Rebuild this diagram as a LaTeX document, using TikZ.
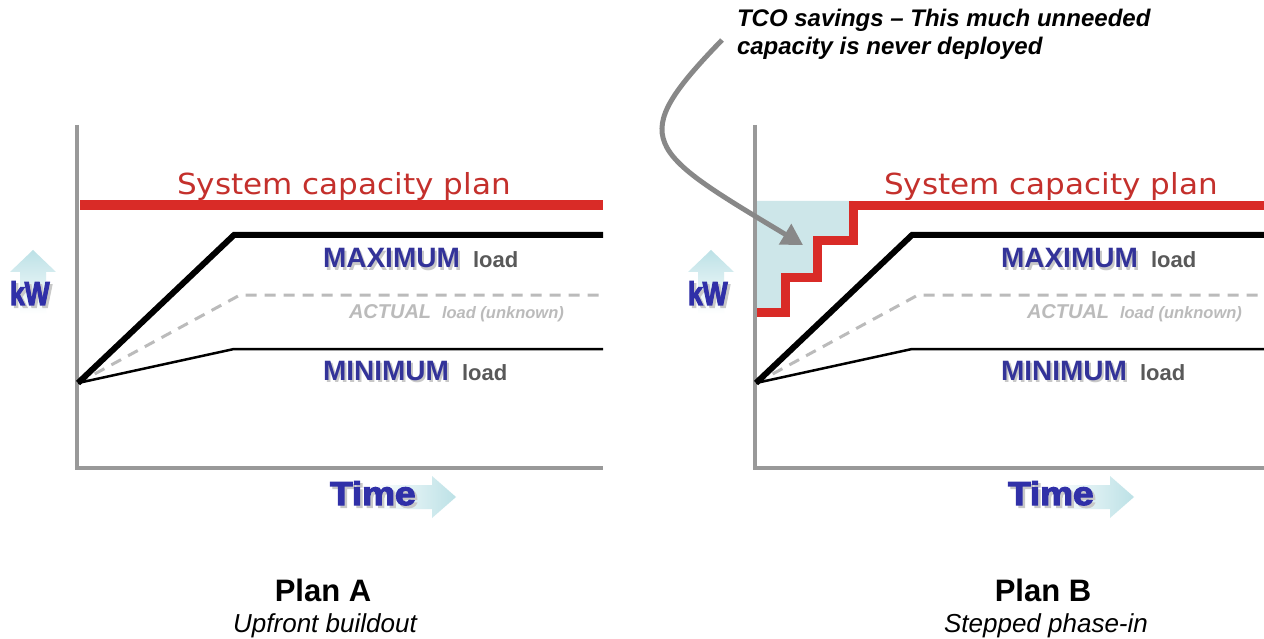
\documentclass[tikz,border=0pt]{standalone}
\usepackage{fontspec}
\setmainfont{Liberation Sans}
\newfontfamily\verdfont{DejaVu Sans}
\newfontfamily\heavyfont[BoldFeatures={FakeBold=3.5}]{Liberation Sans}
\usetikzlibrary{arrows.meta}
\definecolor{capred}{HTML}{D92B27}
\definecolor{capredtext}{HTML}{C4302C}
\definecolor{axisgray}{HTML}{999999}
\definecolor{dashgray}{HTML}{BBBBBB}
\definecolor{loadgray}{HTML}{595959}
\definecolor{labelblue}{HTML}{333399}
\definecolor{heavyblue}{HTML}{3030A8}
\definecolor{arrowcyan}{HTML}{BCE1E6}
\definecolor{savefill}{HTML}{CDE6E9}
\definecolor{curvegray}{HTML}{888888}
\definecolor{shadowgray}{HTML}{C8C8C8}
\newcommand\chartpanel[4]{%
\begin{scope}[xshift=#2]
\coordinate (#1top) at (77,125);
\coordinate (#1corner) at (77,468);
\coordinate (#1xend) at (#3,468);
\coordinate (#1o) at (78,383);
\coordinate (#1maxk) at (234,235);
\coordinate (#1maxe) at (#3,235);
\coordinate (#1actk) at (240,295);
\coordinate (#1acte) at (#3,295);
\coordinate (#1mink) at (234,349);
\coordinate (#1mine) at (#3,349);
\draw[axisline] (#1top) -- (#1corner) -- (#1xend);
\draw[actline] (#1o) -- (#1actk) -- (#1acte);
\draw[minline] (#1o) -- (#1mink) -- (#1mine);
\draw[maxline] (#1o) -- (#1maxk) -- (#1maxe);
\node[captxt] (#1cap) at (#4,195) {\scalebox{1.07}[1]{System capacity plan}};
\node[bigshadow] (#1maxs) at (325,270) {MAXIMUM};
\node[bigblue] (#1max) at (323,268) {MAXIMUM};
\node[loadtxt] (#1maxl) at (473,268) {load};
\node[acttxt] (#1act) at (349,318) {ACTUAL};
\node[actsmall] (#1actl) at (442,318) {load (unknown)};
\node[bigshadow] (#1mins) at (325,382) {MINIMUM};
\node[bigblue] (#1min) at (323,380) {MINIMUM};
\node[loadtxt] (#1minl) at (462,380) {load};
\shade[top color=arrowcyan, bottom color=white] (10,272) -- (33,250) -- (56,272) -- (46,272) -- (46,314) -- (20,314) -- (20,272) -- cycle;
\node[heavy, text=shadowgray] (#1kws) at (12.5,307.5) {\scalebox{0.8}[1]{kW}};
\node[heavy, text=heavyblue] (#1kw) at (10,305) {\scalebox{0.8}[1]{kW}};
\shade[left color=white, right color=arrowcyan] (372,485) -- (432,485) -- (432,476) -- (456,497) -- (432,518) -- (432,509) -- (372,509) -- cycle;
\node[heavy, text=shadowgray] (#1times) at (332.5,507.5) {\scalebox{1.12}[1]{Time}};
\node[heavy, text=heavyblue] (#1time) at (330,505) {\scalebox{1.12}[1]{Time}};
\end{scope}}
\begin{document}
\begin{tikzpicture}[x=1pt,y=-1pt,
 txt/.style={inner sep=0pt, outer sep=0pt},
 axisline/.style={draw=axisgray, line width=4pt},
 capline/.style={draw=capred, line width=10pt},
 maxline/.style={draw=black, line width=6pt, line join=miter},
 actline/.style={draw=dashgray, line width=3pt, dash pattern=on 11pt off 8pt},
 minline/.style={draw=black, line width=2.5pt},
 stepline/.style={draw=capred, line width=9pt, line join=miter},
 bigblue/.style={txt, anchor=base west, text=labelblue, font=\fontsize{28}{30}\selectfont\bfseries},
 bigshadow/.style={bigblue, text=shadowgray},
 loadtxt/.style={txt, anchor=base west, text=loadgray, font=\fontsize{22}{24}\selectfont\bfseries},
 acttxt/.style={txt, anchor=base west, text=dashgray, font=\fontsize{20}{22}\selectfont\bfseries\itshape},
 actsmall/.style={txt, anchor=base west, text=dashgray, font=\fontsize{16.5}{18}\selectfont\bfseries\itshape},
 captxt/.style={txt, anchor=base, text=capredtext, font=\verdfont\fontsize{29}{31}\selectfont},
 plantxt/.style={txt, anchor=base, font=\fontsize{31}{33}\selectfont\bfseries},
 subtxt/.style={txt, anchor=base, font=\fontsize{26}{28}\selectfont\itshape},
 heavy/.style={txt, anchor=base west, font=\heavyfont\bfseries\fontsize{33}{35}\selectfont},
 tcotxt/.style={txt, anchor=base west, font=\fontsize{24}{26}\selectfont\bfseries\itshape},
 curvearrow/.style={draw=curvegray, line width=5pt, -{Triangle[length=21pt,width=23pt]}},
]
\useasboundingbox[fill=white] (0,0) rectangle (1264,639);
% Plan A
\draw[capline] (80,205) -- (603,205);
\chartpanel{a}{0}{603}{344}
\node[plantxt] (planA) at (323,601) {Plan A};
\node[subtxt] (subA) at (325,632) {Upfront buildout};
% Plan B
\fill[savefill] (757,201) -- (853,201) -- (853,241) -- (817,241) -- (817,277) -- (785,277) -- (785,312) -- (757,312) -- cycle;
\draw[stepline] (757,312) -- (785,312) -- (785,277) -- (817,277) -- (817,241) -- (853,241) -- (853,206) -- (1270,206);
\chartpanel{b}{678}{590}{373}
\node[plantxt] (planB) at (1043,601) {Plan B};
\node[subtxt] (subB) at (1046,632) {Stepped phase-in};
% TCO callout
\node[tcotxt] (tco1) at (737,27) {TCO savings -- This much unneeded};
\node[tcotxt] (tco2) at (737,55) {capacity is never deployed};
\coordinate (tcoStart) at (722,40);
\coordinate (tcoTip) at (803,245);
\draw[curvearrow] (tcoStart) .. controls (625,140) and (645,150) .. (tcoTip);
\end{tikzpicture}
\end{document}
